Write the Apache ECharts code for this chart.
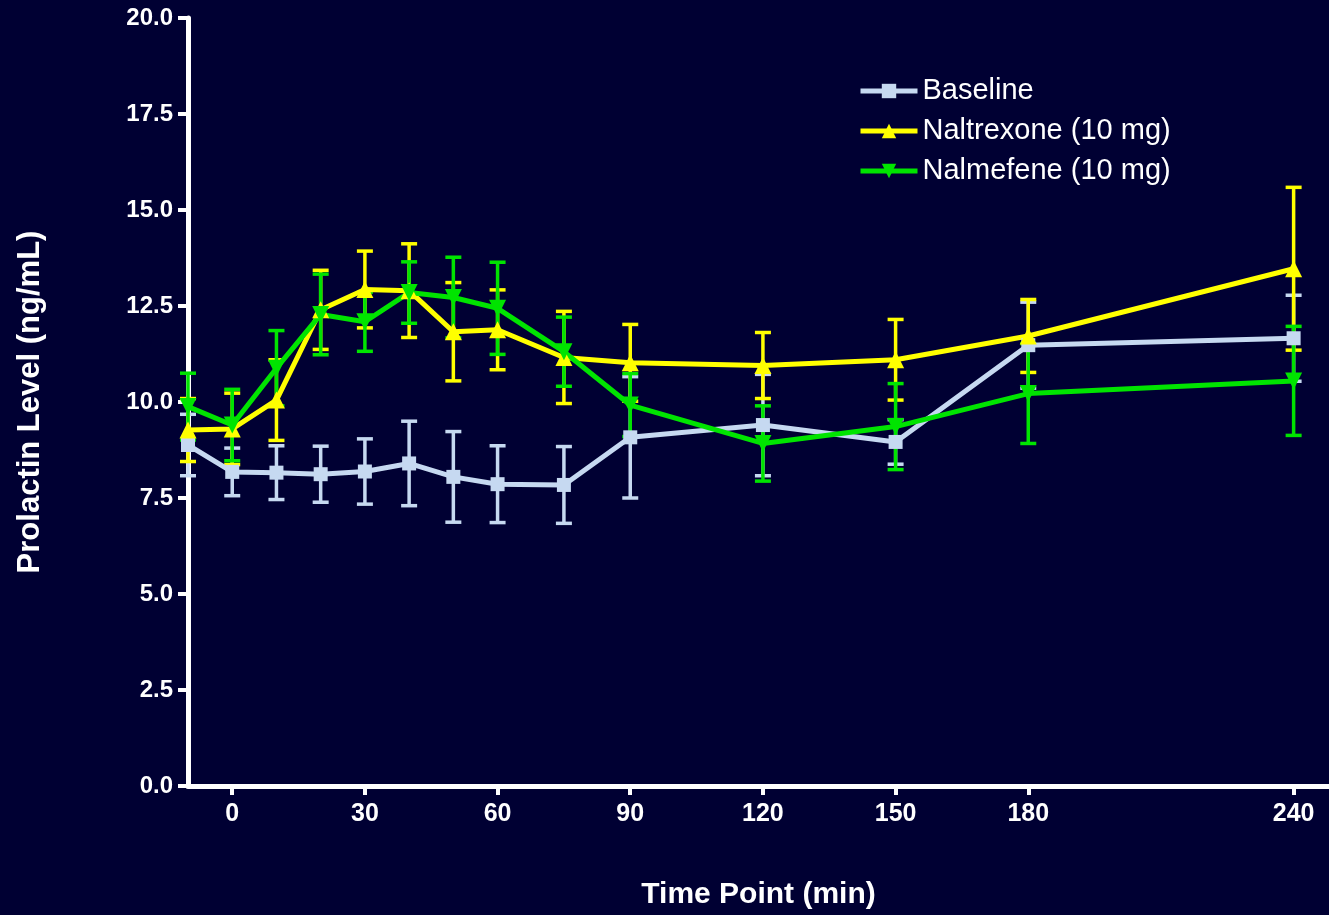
<!DOCTYPE html>
<html>
<head>
<meta charset="utf-8">
<script src="https://cdn.jsdelivr.net/npm/echarts@6/dist/echarts.min.js"></script>
<style>
html,body{margin:0;padding:0;background:#000033;}
#chart{width:1329px;height:915px;}
</style>
</head>
<body>
<div id="chart"></div>
<script>
const times = [-10, 0, 10, 20, 30, 40, 50, 60, 75, 90, 120, 150, 180, 240];
const xTickValues = [0, 30, 60, 90, 120, 150, 180, 240];

const baseline      = [8.88, 8.18, 8.16, 8.12, 8.19, 8.40, 8.05, 7.86, 7.84, 9.08, 9.40, 8.96, 11.48, 11.66];
const baselineErr   = [0.80, 0.62, 0.70, 0.73, 0.85, 1.10, 1.18, 1.00, 1.00, 1.58, 1.32, 0.58, 1.12, 1.12];
const naltrexone    = [9.27, 9.30, 10.05, 12.40, 12.93, 12.90, 11.83, 11.88, 11.16, 11.02, 10.95, 11.10, 11.72, 13.47];
const naltrexoneErr = [0.82, 0.93, 1.05, 1.03, 1.00, 1.22, 1.28, 1.04, 1.20, 1.00, 0.86, 1.05, 0.95, 2.12];
const nalmefene     = [9.88, 9.40, 10.88, 12.28, 12.09, 12.85, 12.72, 12.44, 11.31, 9.92, 8.92, 9.36, 10.22, 10.55];
const nalmefeneErr  = [0.87, 0.93, 0.98, 1.05, 0.77, 0.80, 1.05, 1.20, 0.90, 0.82, 0.98, 1.12, 1.30, 1.42];

const seriesNames = ['Baseline', 'Naltrexone (10 mg)', 'Nalmefene (10 mg)'];
const colors = ['#c6d9f1', '#ffff00', '#00e400'];

const chart = echarts.init(document.getElementById('chart'));

function lineData(vals) { return times.map((t, i) => [t, vals[i]]); }
function errData(vals, errs) { return times.map((t, i) => [t, vals[i] - errs[i], vals[i] + errs[i]]); }

function errorSeries(name, vals, errs, color) {
  return {
    type: 'custom',
    name: name + ' SEM',
    data: errData(vals, errs),
    encode: { x: 0, y: [1, 2] },
    clip: false,
    silent: true,
    itemStyle: { color: color },
    renderItem: function (params, api) {
      const x = api.value(0);
      const lo = api.coord([x, api.value(1)]);
      const hi = api.coord([x, api.value(2)]);
      const hw = 8;
      const style = { stroke: color, lineWidth: 3.5 };
      return {
        type: 'group',
        children: [
          { type: 'line', shape: { x1: lo[0], y1: lo[1], x2: hi[0], y2: hi[1] }, style: style },
          { type: 'line', shape: { x1: hi[0] - hw, y1: hi[1], x2: hi[0] + hw, y2: hi[1] }, style: style },
          { type: 'line', shape: { x1: lo[0] - hw, y1: lo[1], x2: lo[0] + hw, y2: lo[1] }, style: style }
        ]
      };
    }
  };
}

function lineSeries(name, vals, color, symbol, size) {
  return {
    type: 'line',
    name: name,
    data: lineData(vals),
    symbol: symbol,
    symbolSize: size,
    clip: false,
    lineStyle: { color: color, width: 5 },
    itemStyle: { color: color },
    emphasis: { disabled: true }
  };
}

const axisWhite = '#ffffff';

chart.setOption({
  backgroundColor: '#000033',
  animation: false,
  grid: { left: 188, right: 0, top: 18, bottom: 126, containLabel: false },
  legend: {
    orient: 'vertical',
    left: 853,
    top: 71,
    itemWidth: 57,
    itemHeight: 18,
    itemGap: 10,
    data: seriesNames,
    lineStyle: { width: 5 },
    textStyle: { color: '#ffffff', fontSize: 29, fontFamily: 'Liberation Sans, Arial, sans-serif', lineHeight: 30 }
  },
  xAxis: {
    type: 'value',
    min: -10,
    max: 248,
    name: 'Time Point (min)',
    nameLocation: 'middle',
    nameGap: 94,
    nameTextStyle: { color: '#ffffff', fontSize: 30, fontWeight: 'bold', fontFamily: 'Liberation Sans, Arial, sans-serif' },
    splitLine: { show: false },
    axisLine: { show: true, onZero: false, lineStyle: { color: axisWhite, width: 5 } },
    axisTick: { show: true, length: 9, customValues: xTickValues, lineStyle: { color: axisWhite, width: 4 } },
    axisLabel: {
      customValues: xTickValues,
      margin: 16,
      color: '#ffffff',
      fontSize: 25,
      fontWeight: 'bold',
      fontFamily: 'Liberation Sans Narrow, Arial Narrow, Liberation Sans, sans-serif'
    }
  },
  yAxis: {
    type: 'value',
    min: 0,
    max: 20,
    interval: 2.5,
    name: 'Prolactin Level (ng/mL)',
    nameLocation: 'middle',
    nameGap: 142,
    nameTextStyle: { color: '#ffffff', fontSize: 31, fontWeight: 'bold', fontFamily: 'Liberation Sans, Arial, sans-serif' },
    splitLine: { show: false },
    axisLine: { show: true, onZero: false, lineStyle: { color: axisWhite, width: 5 } },
    axisTick: { show: true, length: 10, lineStyle: { color: axisWhite, width: 4 } },
    axisLabel: {
      margin: 15,
      color: '#ffffff',
      fontSize: 24,
      fontWeight: 'bold',
      fontFamily: 'Liberation Sans, Arial, sans-serif',
      formatter: v => v.toFixed(1)
    }
  },
  series: [
    errorSeries(seriesNames[0], baseline, baselineErr, colors[0]),
    lineSeries(seriesNames[0], baseline, colors[0], 'rect', 14),
    errorSeries(seriesNames[1], naltrexone, naltrexoneErr, colors[1]),
    lineSeries(seriesNames[1], naltrexone, colors[1], 'triangle', 17),
    errorSeries(seriesNames[2], nalmefene, nalmefeneErr, colors[2]),
    lineSeries(seriesNames[2], nalmefene, colors[2], 'path://M0,0 L10,0 L5,9 Z', 17)
  ]
});
</script>
</body>
</html>
